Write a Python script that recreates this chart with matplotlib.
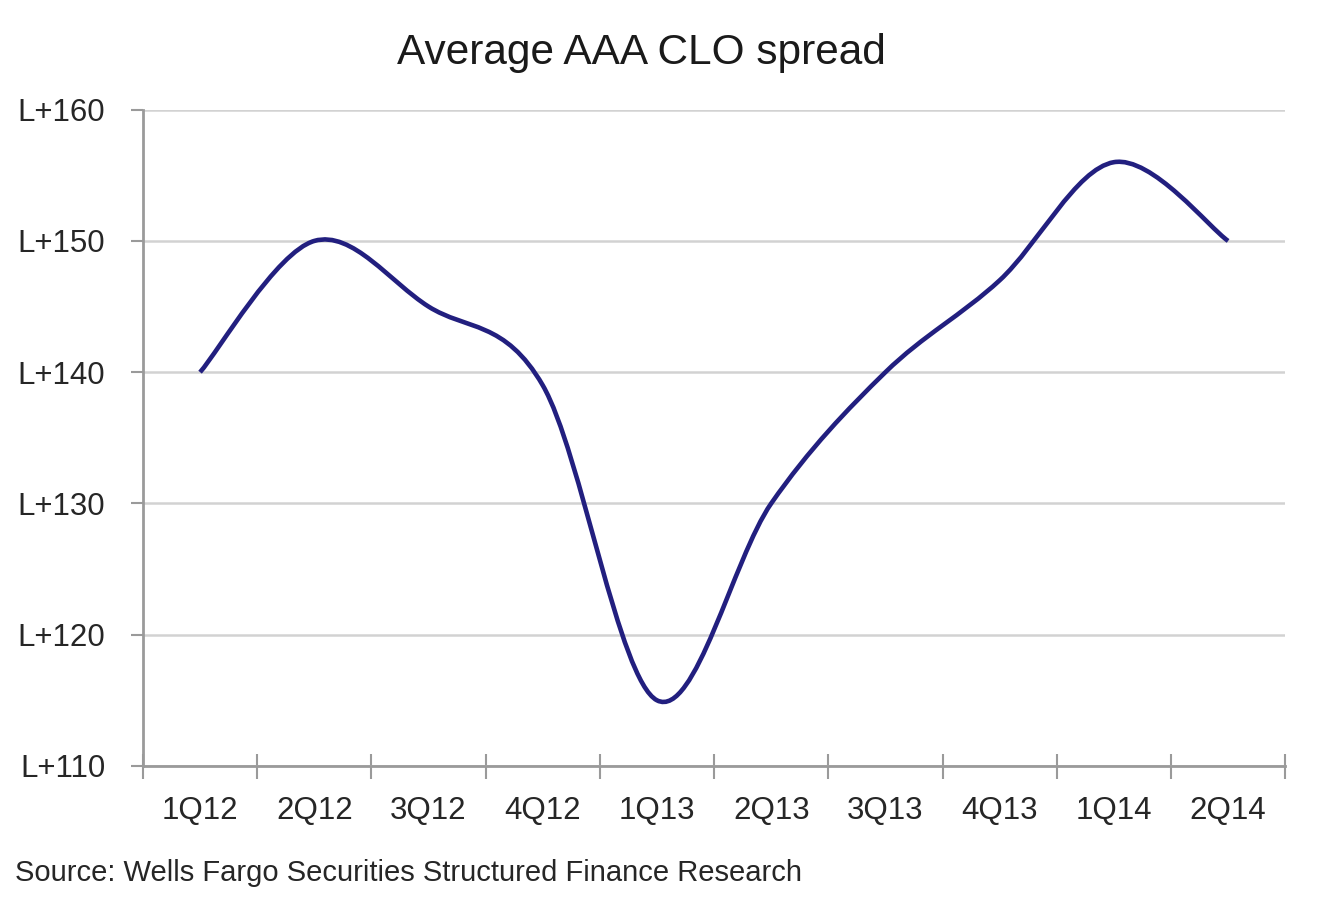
import numpy as np
import matplotlib
matplotlib.use("Agg")
import matplotlib.pyplot as plt
from matplotlib.path import Path
from matplotlib.patches import PathPatch
from matplotlib.ticker import FixedLocator, FuncFormatter

# ── Data ─────────────────────────────────────────────────────────────────────
quarters = ["1Q12", "2Q12", "3Q12", "4Q12", "1Q13",
            "2Q13", "3Q13", "4Q13", "1Q14", "2Q14"]
spread = [140, 150, 145, 139, 115, 130, 140, 147, 156, 150]
y_ticks = [110, 120, 130, 140, 150, 160]

FONT = ["Liberation Sans", "DejaVu Sans"]
LINE_COLOR = "#221f7f"
GRID_COLOR = "#d2d2d2"
AXIS_COLOR = "#9a9a9a"
TEXT_COLOR = "#262626"


def smooth_path(xs, ys):
    """Excel-style smoothed line: cubic Bezier through every point."""
    xs = np.asarray(xs, float)
    ys = np.asarray(ys, float)
    n = len(xs)
    verts = [(xs[0], ys[0])]
    codes = [Path.MOVETO]
    for i in range(n - 1):
        p0 = max(i - 1, 0)
        p3 = min(i + 2, n - 1)
        c1 = (xs[i] + (xs[i + 1] - xs[p0]) / 6, ys[i] + (ys[i + 1] - ys[p0]) / 6)
        c2 = (xs[i + 1] - (xs[p3] - xs[i]) / 6, ys[i + 1] - (ys[p3] - ys[i]) / 6)
        verts += [c1, c2, (xs[i + 1], ys[i + 1])]
        codes += [Path.CURVE4] * 3
    return Path(verts, codes)


fig = plt.figure(figsize=(13.36, 9.14), dpi=100)
ax = fig.add_axes([0.107, 0.162, 0.855, 0.718])

x = np.arange(len(quarters))
patch = PathPatch(smooth_path(x, spread), facecolor="none",
                  edgecolor=LINE_COLOR, lw=3.3, capstyle="butt", zorder=3)
ax.add_patch(patch)

ax.set_xlim(-0.5, len(quarters) - 0.5)
ax.set_ylim(110, 160)

# y axis
ax.set_yticks(y_ticks)
ax.yaxis.set_major_formatter(FuncFormatter(lambda v, _: f"L+{int(v)}"))
ax.tick_params(axis="y", length=9, width=1.5, color=AXIS_COLOR,
               pad=18, labelsize=22.5, labelcolor=TEXT_COLOR)
ax.grid(axis="y", color=GRID_COLOR, lw=1.8, zorder=0)

# x axis: labels at centres, tick marks at category boundaries
ax.set_xticks(x)
ax.set_xticklabels(quarters)
ax.xaxis.set_minor_locator(FixedLocator(np.arange(-0.5, len(quarters), 1.0)))
ax.tick_params(axis="x", which="major", length=0, pad=22,
               labelsize=22.5, labelcolor=TEXT_COLOR)
ax.tick_params(axis="x", which="minor", direction="inout", length=18,
               width=1.5, color=AXIS_COLOR)

for lab in ax.get_xticklabels() + ax.get_yticklabels():
    lab.set_family(FONT)

for side in ["top", "right"]:
    ax.spines[side].set_visible(False)
for side in ["left", "bottom"]:
    ax.spines[side].set_color(AXIS_COLOR)
    ax.spines[side].set_linewidth(2)

fig.text(0.48, 0.942, "Average AAA CLO spread", ha="center", va="center",
         fontsize=30.5, family=FONT, color="#1a1a1a")
fig.text(0.011, 0.045, "Source: Wells Fargo Securities Structured Finance Research",
         ha="left", va="center", fontsize=21, family=FONT, color=TEXT_COLOR)

fig.savefig("out.png", dpi=100, facecolor="white")
